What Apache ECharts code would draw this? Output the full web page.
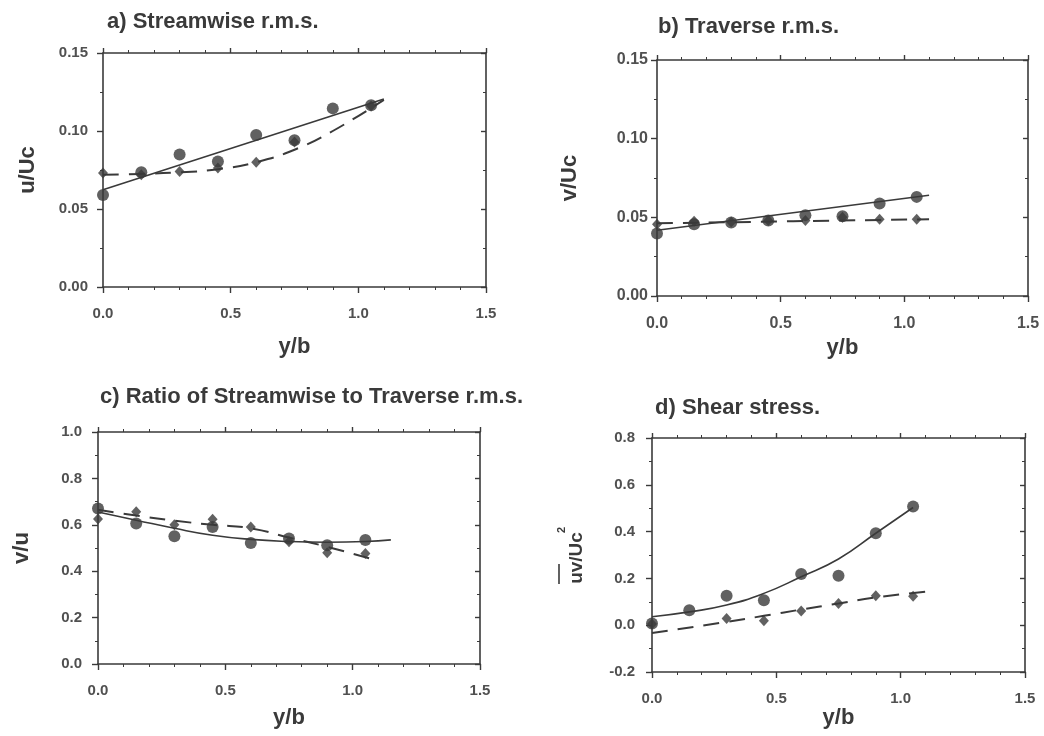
<!DOCTYPE html>
<html><head><meta charset="utf-8">
<script src="https://cdn.jsdelivr.net/npm/echarts@6/dist/echarts.min.js"></script>
<style>html,body{margin:0;padding:0;background:#fff}#c{width:1044px;height:736px}</style>
</head><body><div id="c"></div>
<script>
// ---- data ----
const yb = [0, 0.15, 0.3, 0.45, 0.6, 0.75, 0.9, 1.05];
const titles = ['a) Streamwise r.m.s.', 'b) Traverse r.m.s.', 'c) Ratio of Streamwise to Traverse r.m.s.', 'd) Shear stress.'];
const xTicks = ['0.0', '0.5', '1.0', '1.5'];

// panel a: u/Uc
const aCircles = [0.059, 0.0735, 0.085, 0.0805, 0.0975, 0.094, 0.1145, 0.1165];
const aDiamondX = [0, 0.15, 0.3, 0.45, 0.6, 0.75, 1.05];
const aDiamonds = [0.073, 0.072, 0.074, 0.0763, 0.080, 0.093, 0.116];
const aFitX = [0, 1.1];
const aFitSolid = [0.0624, 0.1205];
const aDashX = [0, 0.15, 0.3, 0.45, 0.6, 0.75, 0.9, 1.1];
const aFitDash = [0.072, 0.0725, 0.0735, 0.0755, 0.080, 0.088, 0.100, 0.120];

// panel b: v/Uc
const bCircles = [0.0397, 0.0456, 0.0467, 0.048, 0.0514, 0.0507, 0.0588, 0.063];
const bDiamonds = [0.0456, 0.0475, 0.047, 0.048, 0.048, 0.050, 0.0488, 0.0488];
const bFitX = [0, 1.1];
const bFitSolid = [0.0418, 0.064];
const bFitDash = [0.0462, 0.0488];

// panel c: v/u
const cCircles = [0.670, 0.606, 0.551, 0.591, 0.522, 0.541, 0.512, 0.534];
const cDiamonds = [0.625, 0.656, 0.600, 0.624, 0.591, 0.527, 0.479, 0.476];
const cSolidX = [0, 0.15, 0.3, 0.45, 0.6, 0.75, 0.9, 1.05, 1.15];
const cFitSolid = [0.655, 0.620, 0.585, 0.555, 0.537, 0.528, 0.525, 0.528, 0.535];
const cDashX = [0, 0.15, 0.3, 0.45, 0.6, 0.75, 0.9, 1.1];
const cFitDash = [0.665, 0.640, 0.618, 0.600, 0.585, 0.545, 0.505, 0.445];

// panel d: uv/Uc^2
const dCircles = [0.007, 0.064, 0.126, 0.107, 0.219, 0.211, 0.393, 0.507];
const dDiamondX = [0, 0.3, 0.45, 0.6, 0.75, 0.9, 1.05];
const dDiamonds = [0.005, 0.029, 0.019, 0.061, 0.093, 0.126, 0.124];
const dSolidX = [0, 0.15, 0.3, 0.45, 0.6, 0.75, 0.9, 1.05];
const dFitSolid = [0.036, 0.057, 0.086, 0.136, 0.207, 0.283, 0.393, 0.503];
const dDashX = [0, 0.3, 0.45, 0.6, 0.75, 0.9, 1.1];
const dFitDash = [-0.033, 0.014, 0.040, 0.067, 0.093, 0.119, 0.143];

// ---- chart ----
const ink = '#3a3a3a';
const labelInk = '#505050';
const font = '"Liberation Sans", Arial, sans-serif';
const zip = (xs, ys) => xs.map((x, i) => [x, ys[i]]);

const grids = [
  {left: 103, top: 53, width: 383, height: 234},
  {left: 657, top: 60, width: 371, height: 236},
  {left: 98, top: 432, width: 382, height: 232},
  {left: 652, top: 438, width: 373, height: 234}
];
const yCfg = [
  {min: 0, max: 0.15, interval: 0.05, dec: 2, name: 'u/Uc', gap: 64, margin: 15, fs: 15},
  {min: 0, max: 0.15, interval: 0.05, dec: 2, name: 'v/Uc', gap: 76, margin: 9, fs: 16},
  {min: 0, max: 1.0, interval: 0.2, dec: 1, name: 'v/u', gap: 65, margin: 16, fs: 15},
  {min: -0.2, max: 0.8, interval: 0.2, dec: 1, name: '', gap: 60, margin: 17, fs: 15}
];
const xNameGap = [49, 41, 43, 32];
const xLabelMargin = [19, 20, 19, 19];

const xAxes = [], yAxes = [];
grids.forEach((g, i) => {
  const lineS = {lineStyle: {color: ink, width: 1.6}};
  const yc = yCfg[i];
  xAxes.push({
    gridIndex: i, type: 'value', min: 0, max: 1.5, interval: 0.5,
    name: 'y/b', nameLocation: 'middle', nameGap: xNameGap[i],
    nameTextStyle: {fontFamily: font, fontWeight: 'bold', fontSize: 22, color: ink},
    axisLine: Object.assign({onZero: false}, lineS),
    axisTick: {show: true, inside: false, length: 6, lineStyle: {color: ink, width: 1.4}},
    minorTick: {show: true, splitNumber: 5, length: 3, lineStyle: {color: ink, width: 1}},
    axisLabel: {formatter: v => xTicks[Math.round(v / 0.5)], fontFamily: font, fontWeight: 'bold', fontSize: yc.fs, color: labelInk, margin: xLabelMargin[i]},
    splitLine: {show: false}
  });
  xAxes.push({
    gridIndex: i, type: 'value', min: 0, max: 1.5, interval: 0.5, position: 'top',
    axisLine: Object.assign({onZero: false}, lineS),
    axisTick: {show: true, length: 5, lineStyle: {color: ink, width: 1.4}},
    minorTick: {show: true, splitNumber: 5, length: 3, lineStyle: {color: ink, width: 1}},
    axisLabel: {show: false}, splitLine: {show: false}
  });
  yAxes.push({
    gridIndex: i, type: 'value', min: yc.min, max: yc.max, interval: yc.interval,
    name: yc.name, nameLocation: 'middle', nameGap: yc.gap,
    nameTextStyle: {fontFamily: font, fontWeight: 'bold', fontSize: 22, color: ink},
    axisLine: Object.assign({onZero: false}, lineS),
    axisTick: {show: true, length: 6, lineStyle: {color: ink, width: 1.4}},
    minorTick: {show: true, splitNumber: 2, length: 3, lineStyle: {color: ink, width: 1}},
    axisLabel: {formatter: v => v.toFixed(yc.dec), fontFamily: font, fontWeight: 'bold', fontSize: yc.fs, color: labelInk, margin: yc.margin},
    splitLine: {show: false}
  });
  yAxes.push({
    gridIndex: i, type: 'value', min: yc.min, max: yc.max, interval: yc.interval, position: 'right',
    axisLine: Object.assign({onZero: false}, lineS),
    axisTick: {show: true, inside: true, length: 5, lineStyle: {color: ink, width: 1.4}},
    minorTick: {show: true, splitNumber: 2, length: 3, lineStyle: {color: ink, width: 1}},
    axisLabel: {show: false}, splitLine: {show: false}
  });
});

function panelSeries(i, circ, circX, dia, diaX, solX, sol, dasX, das) {
  const xi = i * 2, yi = i * 2;
  return [
    {type: 'line', xAxisIndex: xi, yAxisIndex: yi, data: zip(solX, sol), smooth: true, showSymbol: false,
     lineStyle: {color: ink, width: 1.6}, z: 2},
    {type: 'line', xAxisIndex: xi, yAxisIndex: yi, data: zip(dasX, das), smooth: true, showSymbol: false,
     lineStyle: {color: ink, width: 2, type: [16, 10]}, z: 2},
    {type: 'scatter', xAxisIndex: xi, yAxisIndex: yi, data: zip(diaX, dia), symbol: 'diamond', symbolSize: [10, 11],
     itemStyle: {color: ink}, z: 3},
    {type: 'scatter', xAxisIndex: xi, yAxisIndex: yi, data: zip(circX, circ), symbol: 'circle', symbolSize: 12,
     itemStyle: {color: ink}, z: 4}
  ];
}

const series = [].concat(
  panelSeries(0, aCircles, yb, aDiamonds, aDiamondX, aFitX, aFitSolid, aDashX, aFitDash),
  panelSeries(1, bCircles, yb, bDiamonds, yb, bFitX, bFitSolid, bFitX, bFitDash),
  panelSeries(2, cCircles, yb, cDiamonds, yb, cSolidX, cFitSolid, cDashX, cFitDash),
  panelSeries(3, dCircles, yb, dDiamonds, dDiamondX, dSolidX, dFitSolid, dDashX, dFitDash)
);

const titleStyle = {fontFamily: font, fontWeight: 'bold', fontSize: 22, color: ink};
const chart = echarts.init(document.getElementById('c'), null, {renderer: 'canvas'});
chart.setOption({
  backgroundColor: '#ffffff',
  animation: false,
  title: [
    {text: titles[0], left: 102, top: 6, textStyle: titleStyle},
    {text: titles[1], left: 653, top: 11, textStyle: titleStyle},
    {text: titles[2], left: 95, top: 381, textStyle: titleStyle},
    {text: titles[3], left: 650, top: 392, textStyle: titleStyle}
  ],
  grid: grids,
  xAxis: xAxes,
  yAxis: yAxes,
  series: series,
  graphic: [
    {type: 'text', x: 577, y: 558, rotation: Math.PI / 2,
     style: {text: 'uv/Uc', font: 'bold 19px ' + font, fill: ink, align: 'center', verticalAlign: 'middle'}},
    {type: 'text', x: 562, y: 530, rotation: Math.PI / 2,
     style: {text: '2', font: 'bold 11px ' + font, fill: ink, align: 'center', verticalAlign: 'middle'}},
    {type: 'line', shape: {x1: 559, y1: 584, x2: 559, y2: 564}, style: {stroke: ink, lineWidth: 1.6}}
  ]
});
</script></body></html>
